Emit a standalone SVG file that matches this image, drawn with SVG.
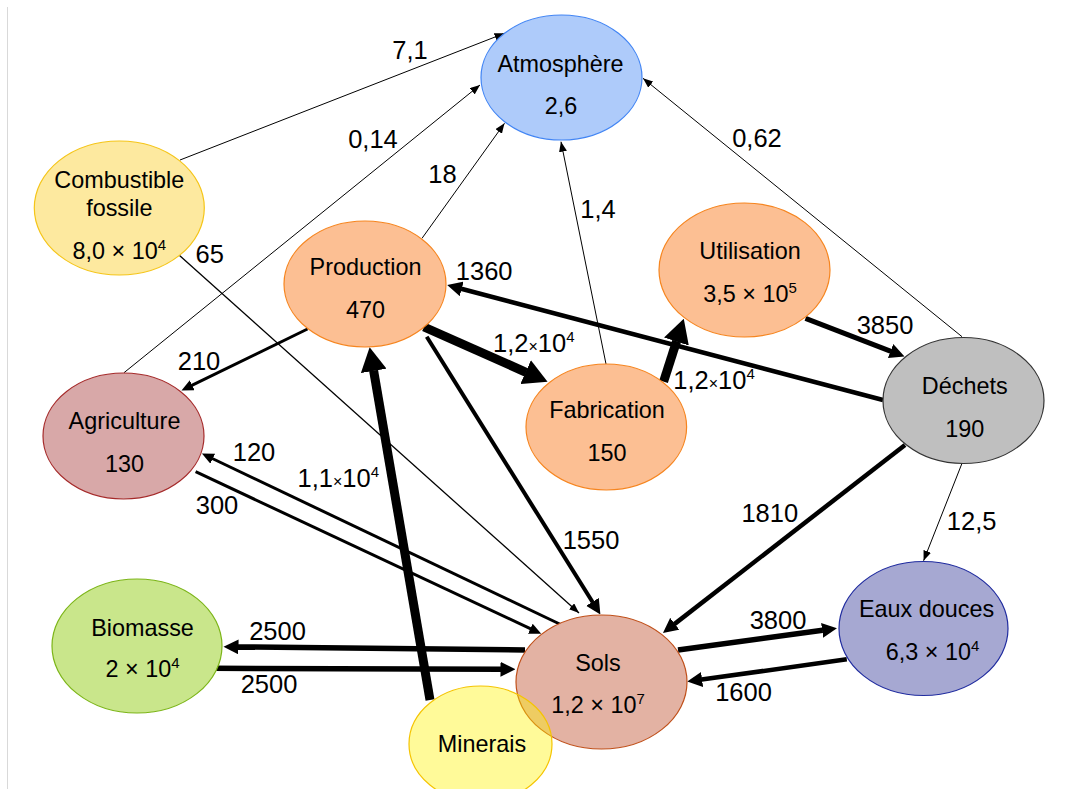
<svg xmlns="http://www.w3.org/2000/svg" width="1070" height="789" viewBox="0 0 1070 789">
<style>
  .node { stroke-width: 1.2; }
  .nt { font-family: "Liberation Sans", Arial, sans-serif; font-size: 23.4px; fill: #000; text-anchor: middle; }
  .et { font-family: "Liberation Sans", Arial, sans-serif; font-size: 25.5px; fill: #000; text-anchor: middle; }
  .sup { font-size: 15px; }
  .sx { font-size: 16px; }
  .c { stroke: #000; fill: none; stroke-linecap: butt; }
  .thin { stroke-width: 1; marker-end: url(#arrThin); }
  .small { stroke-width: 3; marker-end: url(#arrSmall); }
  .med { marker-end: url(#arrMed); }
  .thick { stroke-width: 9; marker-end: url(#arrThick); }
</style>
<defs>
  <marker id="arrThin" markerUnits="userSpaceOnUse" viewBox="0 0 10 8" markerWidth="10" markerHeight="8" refX="10" refY="4" orient="auto">
    <path d="M0,0 L10,4 L0,8 z" fill="#000"/>
  </marker>
  <marker id="arrSmall" markerUnits="userSpaceOnUse" viewBox="0 0 12 11" markerWidth="12" markerHeight="11" refX="0.5" refY="5.5" orient="auto">
    <path d="M0,0 L12,5.5 L0,11 z" fill="#000"/>
  </marker>
  <marker id="arrMed" markerUnits="userSpaceOnUse" viewBox="0 0 15 15" markerWidth="15" markerHeight="15" refX="0.5" refY="7.5" orient="auto">
    <path d="M0,0 L15,7.5 L0,15 z" fill="#000"/>
  </marker>
  <marker id="arrThick" markerUnits="userSpaceOnUse" viewBox="0 0 24 26" markerWidth="24" markerHeight="26" refX="0.5" refY="13" orient="auto">
    <path d="M0,0 L24,13 L0,26 z" fill="#000"/>
  </marker>
</defs>

<rect x="0" y="0" width="1070" height="789" fill="#fff"/>
<line x1="7.5" y1="7" x2="7.5" y2="789" stroke="#d9d9d9" stroke-width="1"/>

<g id="connectors">
  <g id="e-comb-atm"><line class="c thin" x1="180" y1="160" x2="504.5" y2="33.3"/><text class="et" x="410" y="59.3">7,1</text></g>
  <g id="e-agri-atm"><line class="c thin" x1="124" y1="372.7" x2="480" y2="85"/><text class="et" x="373" y="148.3">0,14</text></g>
  <g id="e-prod-atm"><line class="c thin" x1="422" y1="238.3" x2="504.5" y2="123.3"/><text class="et" x="442.5" y="183.3">18</text></g>
  <g id="e-fab-atm"><line class="c thin" x1="606" y1="364" x2="561" y2="141.7"/><text class="et" x="598" y="218.3">1,4</text></g>
  <g id="e-dech-atm"><line class="c thin" x1="962" y1="336.7" x2="643" y2="78.3"/><text class="et" x="757" y="147.3">0,62</text></g>
  <g id="e-comb-sols"><line class="c" stroke-width="1.3" marker-end="url(#arrThin)" x1="179" y1="255" x2="579" y2="613"/><text class="et" x="209.7" y="262.7">65</text></g>
  <g id="e-prod-agri"><line class="c small" x1="307.5" y1="329" x2="191.8" y2="385.4"/><text class="et" x="199" y="370">210</text></g>
  <g id="e-sols-agri"><line class="c small" x1="561.7" y1="625" x2="212.3" y2="458.5"/><text class="et" x="254" y="461">120</text></g>
  <g id="e-agri-sols"><line class="c small" x1="195.6" y1="471.7" x2="530.8" y2="628.9"/><text class="et" x="217" y="514.3">300</text></g>
  <g id="e-prod-sols"><line class="c med" stroke-width="4" x1="426.7" y1="336.7" x2="592.7" y2="602.3"/><text class="et" x="591" y="549.3">1550</text></g>
  <g id="e-dech-prod"><line class="c med" stroke-width="4.5" x1="883" y1="400" x2="461.2" y2="288.8"/><text class="et" x="484.2" y="280">1360</text></g>
  <g id="e-util-dech"><line class="c med" stroke-width="5" x1="805.5" y1="318.3" x2="891" y2="351.3"/><text class="et" x="885" y="334">3850</text></g>
  <g id="e-dech-sols"><line class="c med" stroke-width="4.5" x1="905" y1="445" x2="674.4" y2="624.1"/><text class="et" x="769.8" y="521.7">1810</text></g>
  <g id="e-dech-eaux"><line class="c thin" x1="962" y1="463.3" x2="923.6" y2="560.7"/><text class="et" x="971.6" y="530">12,5</text></g>
  <g id="e-sols-eaux"><line class="c med" stroke-width="5.5" x1="678" y1="650" x2="822.6" y2="630.3"/><text class="et" x="778" y="629.3">3800</text></g>
  <g id="e-eaux-sols"><line class="c med" stroke-width="4.5" x1="846.8" y1="659.3" x2="701.6" y2="679.6"/><text class="et" x="743.5" y="700.7">1600</text></g>
  <g id="e-sols-bio"><line class="c med" stroke-width="5.5" x1="525" y1="650" x2="238" y2="646.9"/><text class="et" x="277.5" y="640">2500</text></g>
  <g id="e-bio-sols"><line class="c med" stroke-width="5.5" x1="213.5" y1="668.3" x2="501" y2="669.3"/><text class="et" x="269" y="693.3">2500</text></g>
  <g id="e-prod-fab"><line class="c thick" x1="424" y1="327" x2="526.1" y2="372.3"/><text class="et" x="533.8" y="351.7">1,2<tspan class="sx">×</tspan>10<tspan class="sup" dy="-10">4</tspan></text></g>
  <g id="e-fab-util"><line class="c thick" x1="663.6" y1="381.7" x2="676.6" y2="341.1"/><text class="et" x="714" y="389.3">1,2<tspan class="sx">×</tspan>10<tspan class="sup" dy="-10">4</tspan></text></g>
  <g id="e-min-prod"><line class="c thick" x1="430" y1="700" x2="373.6" y2="370.4"/><text class="et" x="338.3" y="487.3">1,1<tspan class="sx">×</tspan>10<tspan class="sup" dy="-10">4</tspan></text></g>
</g>

<g id="n-atmosphere">
  <ellipse class="node" cx="561.5" cy="77.5" rx="80.5" ry="62.5" fill="#aecbfa" stroke="#4285f4"/>
  <text class="nt" x="560.5" y="72.3">Atmosphère</text>
  <text class="nt" x="561" y="114">2,6</text>
</g>
<g id="n-combustible">
  <ellipse class="node" cx="119.3" cy="208" rx="85" ry="67" fill="#fde99f" stroke="#f5c518"/>
  <text class="nt" x="119.3" y="188.3">Combustible</text>
  <text class="nt" x="119.3" y="216">fossile</text>
  <text class="nt" x="119.3" y="259.3">8,0 × 10<tspan class="sup" dy="-9">4</tspan></text>
</g>
<g id="n-production">
  <ellipse class="node" cx="365" cy="284" rx="81" ry="63" fill="#fcbf93" stroke="#f6851f"/>
  <text class="nt" x="365.5" y="275">Production</text>
  <text class="nt" x="365.5" y="318.3">470</text>
</g>
<g id="n-utilisation">
  <ellipse class="node" cx="744.5" cy="270" rx="85.5" ry="67" fill="#fcbf93" stroke="#f6851f"/>
  <text class="nt" x="750" y="259.3">Utilisation</text>
  <text class="nt" x="750" y="301.7">3,5 × 10<tspan class="sup" dy="-9">5</tspan></text>
</g>
<g id="n-fabrication">
  <ellipse class="node" cx="606.3" cy="427" rx="80.3" ry="63" fill="#fcbf93" stroke="#f6851f"/>
  <text class="nt" x="607" y="418.3">Fabrication</text>
  <text class="nt" x="607" y="460.7">150</text>
</g>
<g id="n-dechets">
  <ellipse class="node" cx="963.5" cy="400.5" rx="80.5" ry="63" fill="#bfbfbf" stroke="#333333"/>
  <text class="nt" x="964.7" y="394">Déchets</text>
  <text class="nt" x="964.7" y="436.7">190</text>
</g>
<g id="n-agriculture">
  <ellipse class="node" cx="123.5" cy="436" rx="80.5" ry="63" fill="#d8a8a8" stroke="#a52a2a"/>
  <text class="nt" x="124.5" y="429.3">Agriculture</text>
  <text class="nt" x="124.5" y="471.7">130</text>
</g>
<g id="n-biomasse">
  <ellipse class="node" cx="137" cy="646" rx="85" ry="67" fill="#c9e68b" stroke="#7cb518"/>
  <text class="nt" x="142.5" y="636">Biomasse</text>
  <text class="nt" x="142.5" y="677.3">2 × 10<tspan class="sup" dy="-9">4</tspan></text>
</g>
<g id="n-eaux">
  <ellipse class="node" cx="923.5" cy="628.5" rx="84.5" ry="67" fill="#a6a8d2" stroke="#1f2b9f"/>
  <text class="nt" x="926.5" y="617.3">Eaux douces</text>
  <text class="nt" x="932.5" y="660">6,3 × 10<tspan class="sup" dy="-9">4</tspan></text>
</g>
<g id="n-sols">
  <ellipse class="node" cx="601.5" cy="682" rx="85.5" ry="67" fill="#e3b2a3" stroke="#c0501a"/>
  <text class="nt" x="598" y="670.7">Sols</text>
  <text class="nt" x="598" y="713.3">1,2 × 10<tspan class="sup" dy="-9">7</tspan></text>
</g>
<g id="n-minerais">
  <ellipse class="node" cx="480.5" cy="744" rx="71.5" ry="58" fill="#fff200" fill-opacity="0.4" stroke="#f5c400"/>
  <text class="nt" x="482" y="751.7">Minerais</text>
</g>
</svg>
